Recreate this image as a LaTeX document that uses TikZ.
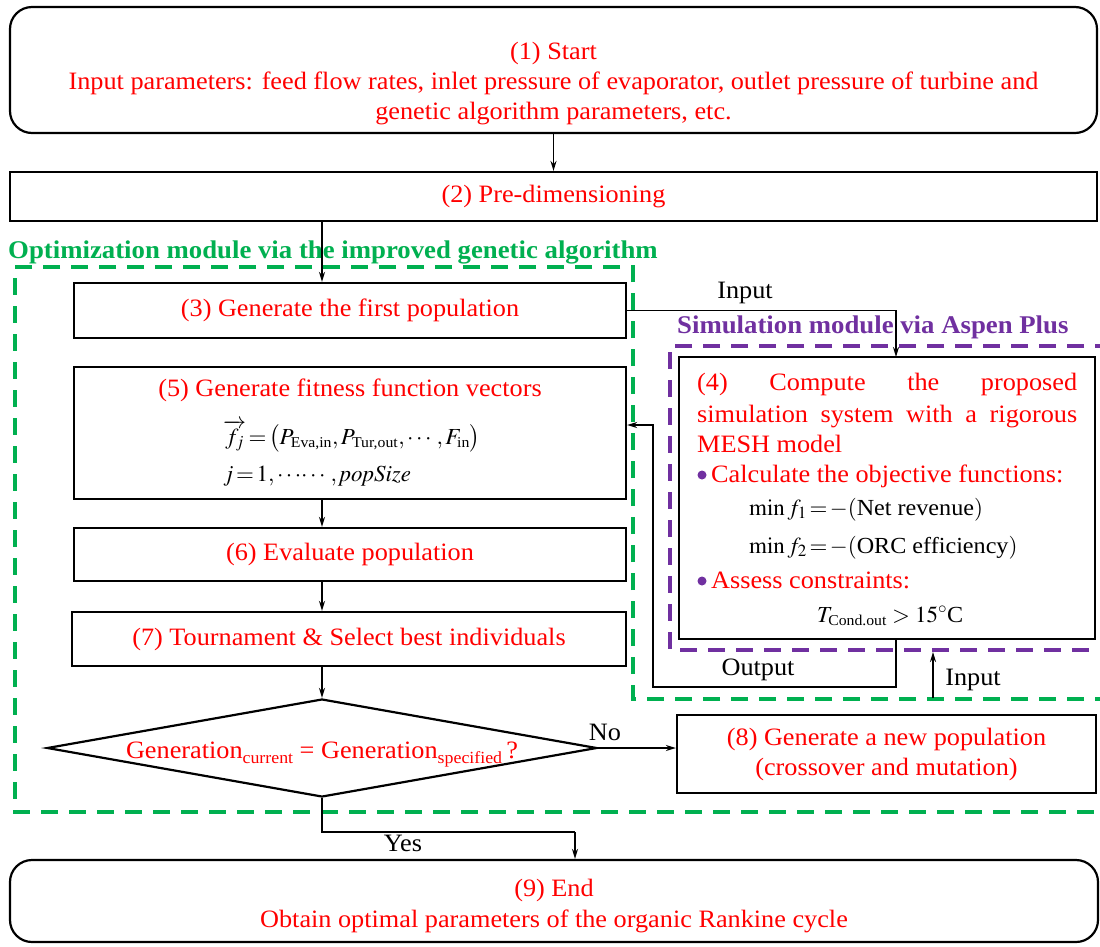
\documentclass[tikz,border=0pt]{standalone}
\usepackage{amsmath}
\usepackage{mathptmx}
\usepackage{fontspec}
\setmainfont{Liberation Serif}[FakeStretch=1.05]
\usepackage{graphicx}
\usetikzlibrary{arrows.meta,shapes.geometric,calc}
\definecolor{optgreen}{RGB}{0,176,80}
\definecolor{simpurple}{RGB}{112,48,160}
\definecolor{txtred}{RGB}{255,0,0}
\newcommand{\myfs}{\fontsize{25}{30}\selectfont}
\newcommand{\mathfs}{\fontsize{23}{28}\selectfont}
\newcommand{\mybf}{\fontsize{25.5}{30}\selectfont\bfseries}
\newcommand{\subt}[1]{\text{\fontsize{15}{15}\selectfont #1}}
\begin{document}
\begin{tikzpicture}[x=1pt,y=-1pt,
  box/.style={draw, line width=2.2pt, rectangle, inner sep=0pt, font=\myfs, text=txtred, align=center},
  rbox/.style={box, rounded corners=22pt},
  arr/.style={line width=1.8pt, -{Stealth[length=10pt,width=6pt]}},
  conn/.style={line width=1.8pt},
  gdash/.style={optgreen, line width=3.5pt, dash pattern=on 17pt off 11pt},
  pdash/.style={simpurple, line width=3.5pt, dash pattern=on 17pt off 11pt},
  rtxt/.style={font=\myfs, text=txtred, inner sep=0pt},
  ktxt/.style={font=\myfs, text=black, inner sep=0pt},
  mtxt/.style={font=\mathfs, text=black, inner sep=0pt}]
\useasboundingbox[fill=white] (0,0) rectangle (1100,946);

% green and purple dashed module frames
\draw[gdash] (1112,699) -- (633,699) -- (633,267) -- (15,267) -- (15,812) -- (1112,812);
\draw[pdash] (1112,346) -- (670,346) -- (670,650) -- (1112,650);
\node[anchor=base west, font=\mybf, text=optgreen, inner sep=0pt] (glab) at (8,258) {Optimization module via the improved genetic algorithm};
\node[anchor=base west, font=\mybf, text=simpurple, inner sep=0pt] (plab) at (677,333) {Simulation module via Aspen Plus};

% boxes
\node[rbox, minimum width=1087pt, minimum height=126pt] (b1) at (553.5,70) {};
\node[rtxt, anchor=base] (b1a) at (553.5,59) {(1) Start};
\node[rtxt, anchor=base] (b1b) at (553.5,89) {Input parameters: feed flow rates, inlet pressure of evaporator, outlet pressure of turbine and};
\node[rtxt, anchor=base] (b1c) at (553.5,119) {genetic algorithm parameters, etc.};

\node[box, minimum width=1087pt, minimum height=49pt] (b2) at (553.5,196.5) {(2) Pre-dimensioning};

\node[box, minimum width=552pt, minimum height=55pt] (b3) at (350,310.5) {(3) Generate the first population};

\node[box, minimum width=552pt, minimum height=132pt] (b5) at (350,433) {};
\node[rtxt, anchor=base] (b5a) at (350,396) {(5) Generate fitness function vectors};
\node[mtxt, anchor=base west] (b5b) at (223,444) {$\overrightarrow{f_{j}}\!=\!\bigl(P_{\subt{Eva,in}},P_{\subt{Tur,out}},\cdots,F_{\subt{in}}\bigr)$};
\node[mtxt, anchor=base west] (b5c) at (223,481) {$j\!=\!1,\cdots\!\cdots,\mathit{popSize}$};

\node[box, minimum width=552pt, minimum height=53pt] (b6) at (350,554.5) {(6) Evaluate population};
\node[box, minimum width=554pt, minimum height=54pt] (b7) at (349,639) {(7) Tournament \& Select best individuals};

\node[draw, diamond, line width=2.2pt, inner sep=0pt, minimum width=550pt, minimum height=98pt] (d) at (322,748) {};
\node[rtxt, anchor=base] (dt) at (322,758) {Generation\raisebox{-5pt}{\fontsize{17}{17}\selectfont current} = Generation\raisebox{-5pt}{\fontsize{17}{17}\selectfont specified}\,?};

\node[box, minimum width=419pt, minimum height=78pt] (b8) at (886.5,754) {(8) Generate a new population\\(crossover and mutation)};

\node[box, minimum width=416pt, minimum height=282pt] (b4) at (887,498) {};
\node[rtxt, anchor=base west] (b4a) at (697,390) {\makebox[380pt][s]{(4) Compute the proposed}};
\node[rtxt, anchor=base west] (b4b) at (697,422) {\makebox[380pt][s]{simulation system with a rigorous}};
\node[rtxt, anchor=base west] (b4c) at (697,452) {MESH model};
\fill[simpurple] (702,475) circle (4.5pt);
\node[rtxt, anchor=base west] (b4d) at (711,482) {Calculate the objective functions:};
\node[mtxt, anchor=base west] (b4e) at (749,515) {$\min f_{1}\!=\!-(\text{Net revenue})$};
\node[mtxt, anchor=base west] (b4f) at (749,553) {$\min f_{2}\!=\!-(\text{ORC efficiency})$};
\fill[simpurple] (702,581) circle (4.5pt);
\node[rtxt, anchor=base west] (b4g) at (711,588) {Assess constraints:};
\node[mtxt, anchor=base west] (b4h) at (817,622) {$T_{\subt{Cond.out}}>15^{\circ}\text{C}$};

\node[rbox, minimum width=1088pt, minimum height=82pt] (b9) at (554,901) {};
\node[rtxt, anchor=base] (b9a) at (554,896) {(9) End};
\node[rtxt, anchor=base] (b9b) at (554,927) {Obtain optimal parameters of the organic Rankine cycle};

% helper coordinates
\coordinate (c4) at (896,357);
\coordinate (o1) at (896,639);
\coordinate (o2) at (653,687);
\coordinate (y1) at (575,832);
\coordinate (i1) at (933,698);
\coordinate (i2) at (933,652);

% connectors
\draw[arr] (b1.south) -- (b2.north);
\draw[arr] (b2.south -| d.north) -- (b3.north -| d.north);
\draw[arr] (b3.east) -| (c4);
\draw[arr] (o1) |- (o2) |- ([yshift=8pt]b5.east);
\draw[arr] (b5.south -| d.north) -- (b6.north -| d.north);
\draw[arr] (b6.south -| d.north) -- (b7.north -| d.north);
\draw[arr] (b7.south -| d.north) -- (d.north);
\draw[arr] (d.east) -- (d.east -| b8.west);
\draw[conn] (d.south) |- (y1);
\draw[arr] (y1) -- (y1 |- b9.north);
\draw[arr] (i1) -- (i2);

% connector labels
\node[ktxt, anchor=base] (lin1) at (745,298) {Input};
\node[ktxt, anchor=base] (lout) at (758,675) {Output};
\node[ktxt, anchor=base] (lin2) at (973,685) {Input};
\node[ktxt, anchor=base] (lno) at (605,740) {No};
\node[ktxt, anchor=base] (lyes) at (403,851) {Yes};
\end{tikzpicture}
\end{document}
